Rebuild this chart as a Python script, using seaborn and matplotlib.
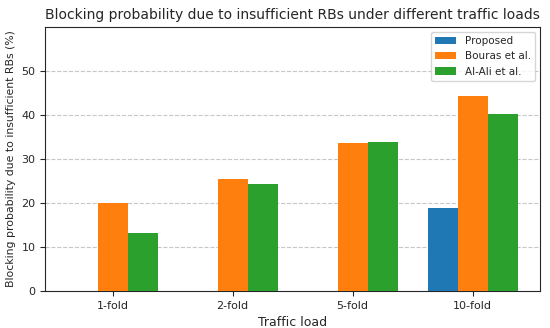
import matplotlib
matplotlib.use("Agg")
import matplotlib.pyplot as plt
import pandas as pd
import seaborn as sns

# ── 数据 ──
loads = ["1-fold", "2-fold", "5-fold", "10-fold"]
methods = ["Proposed", "Bouras et al.", "Al-Ali et al."]
proposed = [0, 0, 0, 18.9]
bouras = [19.9, 25.5, 33.7, 44.4]
al_ali = [13.1, 24.4, 33.8, 40.2]
colors = ["#1f77b4", "#ff7f0e", "#2ca02c"]

df = pd.DataFrame({
    "load": loads * 3,
    "method": [m for m in methods for _ in loads],
    "value": proposed + bouras + al_ali,
})

sns.set_style("ticks")
plt.rcParams["font.family"] = ["DejaVu Sans"]

fig, ax = plt.subplots(figsize=(5.5, 3.28), dpi=100)
sns.barplot(data=df, x="load", y="value", hue="method", order=loads,
            hue_order=methods, palette=colors, width=0.75, saturation=1,
            linewidth=0, edgecolor="none", ax=ax, zorder=3)

ax.set_xlim(-0.5625, 3.5625)
ax.set_ylim(0, 60)
ax.set_yticks(range(0, 60, 10))
ax.grid(axis="y", linestyle="--", color="#b0b0b0", alpha=0.7, linewidth=0.8, zorder=0)
ax.set_axisbelow(True)
ax.tick_params(labelsize=8)
ax.set_xlabel("Traffic load", fontsize=9)
ax.set_ylabel("Blocking probability due to insufficient RBs (%)", fontsize=7.8)
ax.set_title("Blocking probability due to insufficient RBs under different traffic loads",
             fontsize=10)
ax.legend(loc="upper right", fontsize=7.5)

fig.subplots_adjust(left=0.082, right=0.982, top=0.918, bottom=0.113)
fig.savefig("out.png", dpi=100)
plt.close(fig)
